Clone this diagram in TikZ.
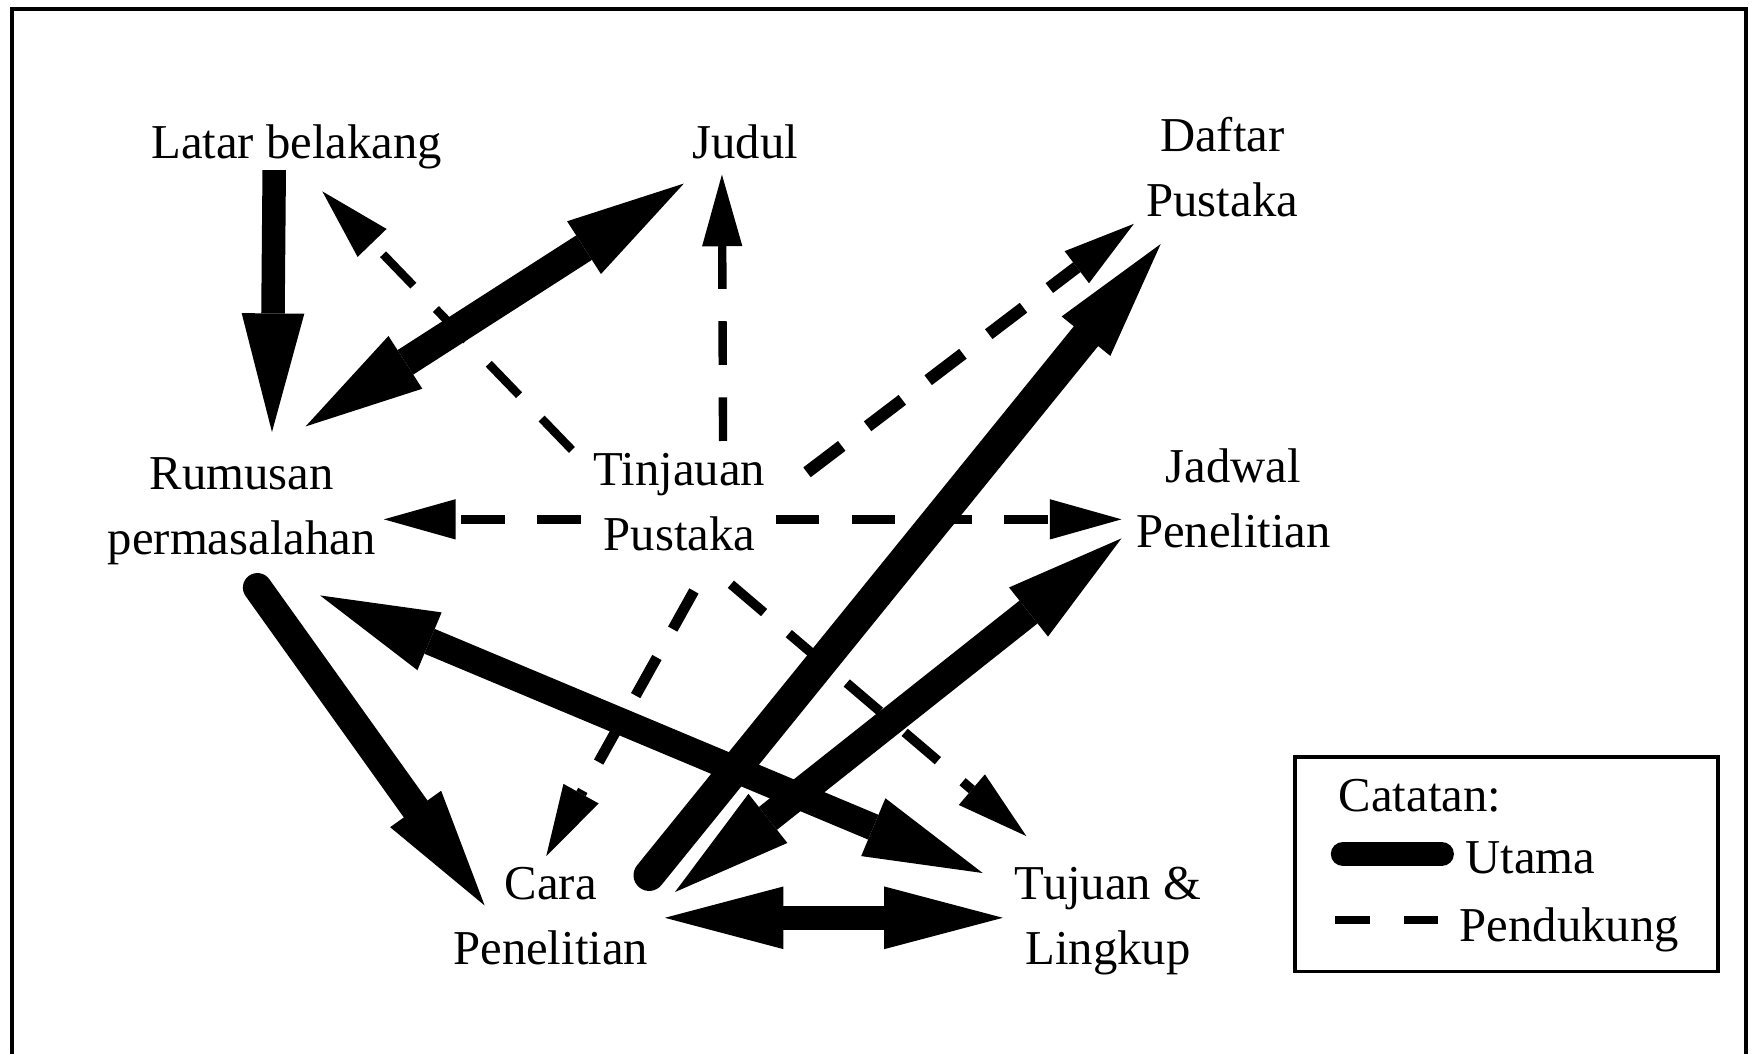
\documentclass[tikz,border=0pt]{standalone}
\usepackage{fontspec}
\setmainfont{Liberation Serif}
\usetikzlibrary{arrows.meta,calc}
\tikzset{
  lbl/.style={font=\fontsize{43.5}{58}\selectfont, align=center, inner sep=0pt, anchor=base},
  legtxt/.style={font=\fontsize{43.5}{58}\selectfont, inner sep=0pt, anchor=base west},
  utama/.style={line width=21pt, line cap=butt},
  diag/.style={line width=26pt},
  bigtipstyle/.style={},
  uarr/.style={utama, -{Triangle[length=106pt,width=56pt,line width=0pt]}},
  uarrr/.style={utama, {Triangle[length=106pt,width=56pt,line width=0pt]}-{Triangle[length=106pt,width=56pt,line width=0pt]}},
  pend/.style={line width=7.5pt, dash pattern=on 39pt off 29pt},
  parr/.style={pend, -{Triangle[length=64pt,width=36pt,line width=0pt]}},
  frame/.style={line width=3.5pt}
}
\begin{document}
\begin{tikzpicture}[x=1pt,y=-1pt]
\useasboundingbox (0,0) rectangle (1568,941.7);
% outer frame (bottom edge lies outside the picture)
\draw[frame] (10.8,941.7) -- (10.8,8.2) -- (1560,8.2) -- (1560,941.7);

% nodes (base anchor = baseline of the last line)
\node[lbl] (latar)    at (265,142)  {Latar belakang};
\node[lbl] (judul)    at (666,142)  {Judul};
\node[lbl] (daftar)   at (1092,193) {Daftar\\Pustaka};
\node[lbl] (rumusan)  at (216,495)  {Rumusan\\permasalahan};
\node[lbl] (tinjauan) at (607,492)  {Tinjauan\\Pustaka};
\node[lbl] (jadwal)   at (1102,489) {Jadwal\\Penelitian};
\node[lbl] (cara)     at (492,862)  {Cara\\Penelitian};
\node[lbl] (tujuan)   at (990,862)  {Tujuan \&\\Lingkup};

% main (thick) connectors
\draw[uarr]  ($(latar.base)+(-20,10)$) -- ($(rumusan.base)+(27,-109)$);
\draw[uarrr, diag] ($(rumusan.base)+(57,-114)$) -- ($(judul.base)+(-55,22)$);
\draw[uarr, diag, line cap=round] ($(rumusan.base)+(14,30)$) -- ($(cara.base)+(-59,-53)$);
\draw[uarrr, line width=24pt] ($(rumusan.base)+(70,37)$) -- ($(tujuan.base)+(-112,-82)$);
\draw[uarr, line width=28pt, line cap=round] ($(cara.base)+(88,-80)$) -- ($(daftar.base)+(-55,25)$);
\draw[uarrr, diag] ($(cara.base)+(111,-65)$) -- ($(jadwal.base)+(-100,-8)$);
\draw[uarrr] ($(cara.base)+(102,-42)$) -- ($(tujuan.base)+(-94,-42)$);

% supporting (dashed) connectors
\draw[parr] ($(tinjauan.base)+(-96,-90)$) -- ($(latar.base)+(23,29)$);
\draw[parr] ($(tinjauan.base)+(39,-98)$) -- ($(judul.base)+(-21,14)$);
\draw[parr] ($(tinjauan.base)+(-88,-28)$) -- ($(rumusan.base)+(127,-31)$);
\draw[parr] ($(tinjauan.base)+(86,-28)$) -- ($(jadwal.base)+(-100,-25)$);
\draw[parr, line width=11pt] ($(tinjauan.base)+(114,-70)$) -- ($(daftar.base)+(-79,7)$);
\draw[parr, line width=9.5pt] ($(tinjauan.base)+(13,36)$) -- ($(cara.base)+(-4,-97)$);
\draw[parr, line width=8.5pt] ($(tinjauan.base)+(46,30)$) -- ($(tujuan.base)+(-73,-115)$);

% legend
\node[draw, frame, minimum width=378pt, minimum height=192pt, inner sep=0pt] (legend) at (1346,772) {};
\node[legtxt] (catatan) at (1196,725) {Catatan:};
\coordinate (ua) at (1200,763);
\coordinate (ub) at (1288,763);
\draw[line width=22pt, line cap=round] (ua) -- (ub);
\node[legtxt] (lutama) at (1309,780) {Utama};
\coordinate (pa) at (1193,822);
\coordinate (pb) at (1292,822);
\draw[pend, dash pattern=on 31pt off 30pt] (pa) -- (pb);
\node[legtxt] (lpend) at (1304,841) {Pendukung};
\end{tikzpicture}
\end{document}
